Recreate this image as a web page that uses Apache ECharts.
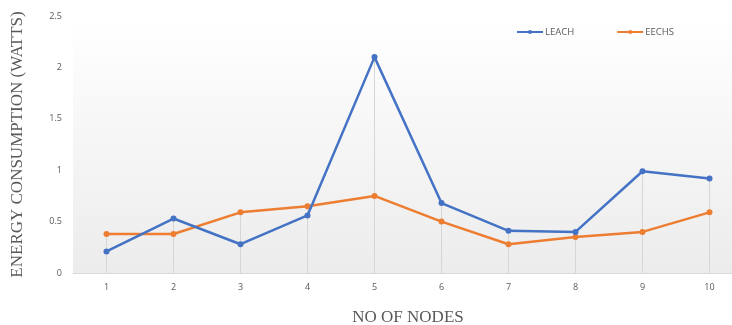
<!DOCTYPE html>
<html>
<head>
<meta charset="utf-8">
<script src="https://cdn.jsdelivr.net/npm/echarts@6/dist/echarts.min.js"></script>
<style>
  html, body { margin: 0; padding: 0; background: #ffffff; }
  #chart { width: 732px; height: 325px; }
</style>
</head>
<body>
<div id="chart"></div>
<script>
// Number of nodes on the x axis
const nodes = ['1', '2', '3', '4', '5', '6', '7', '8', '9', '10'];
// Energy consumption (watts) per protocol
const leach = [0.21, 0.53, 0.28, 0.56, 2.10, 0.68, 0.41, 0.40, 0.99, 0.92];
const eechs = [0.38, 0.38, 0.59, 0.65, 0.75, 0.50, 0.28, 0.35, 0.40, 0.59];
// Y axis ticks
const yTicks = [0, 0.5, 1, 1.5, 2, 2.5];

// Drop lines run from the higher of the two points down to the axis
const dropTop = leach.map((v, i) => Math.max(v, eechs[i]));

const BLUE = '#4472C4';
const ORANGE = '#ED7D31';
const TEXT = '#595959';

const chart = echarts.init(document.getElementById('chart'), null, { renderer: 'canvas' });

chart.setOption({
  animation: false,
  backgroundColor: '#ffffff',
  grid: {
    left: 73, top: 16, right: -11, bottom: 52,
    outerBoundsMode: 'none',
    show: true,
    borderWidth: 0,
    backgroundColor: new echarts.graphic.LinearGradient(0, 0, 0, 1, [
      { offset: 0, color: '#ffffff' },
      { offset: 1, color: '#ececec' }
    ])
  },
  legend: {
    top: 22,
    left: 511,
    itemGap: 42,
    itemWidth: 26,
    itemHeight: 5,
    textStyle: { color: TEXT, fontSize: 9.5, fontFamily: 'Open Sans', padding: [0, 0, 0, -3] },
    data: ['LEACH', 'EECHS']
  },
  xAxis: {
    type: 'category',
    data: nodes,
    boundaryGap: true,
    name: 'NO OF NODES',
    nameLocation: 'middle',
    nameGap: 36,
    nameTextStyle: { fontFamily: 'Liberation Serif', fontSize: 17, color: TEXT },
    axisLine: { lineStyle: { color: '#d9d9d9', width: 1 } },
    axisTick: { show: false },
    axisLabel: { color: TEXT, fontSize: 9, fontFamily: 'Open Sans', margin: 10 },
    splitLine: { show: false }
  },
  yAxis: {
    type: 'value',
    min: yTicks[0],
    max: yTicks[yTicks.length - 1],
    interval: yTicks[1] - yTicks[0],
    name: 'ENERGY CONSUMPTION (WATTS)',
    nameLocation: 'middle',
    nameGap: 47,
    nameTextStyle: { fontFamily: 'Liberation Serif', fontSize: 17, color: TEXT },
    axisLine: { show: false },
    axisTick: { show: false },
    axisLabel: { color: TEXT, fontSize: 9, fontFamily: 'Open Sans', margin: 11 },
    splitLine: { show: false }
  },
  series: [
    {
      name: 'drop',
      type: 'bar',
      data: dropTop,
      barWidth: 1,
      itemStyle: { color: '#d6d6d6' },
      silent: true,
      z: 1
    },
    {
      name: 'LEACH',
      type: 'line',
      data: leach,
      color: BLUE,
      symbol: 'circle',
      symbolSize: 6,
      lineStyle: { width: 2.5, color: BLUE },
      itemStyle: { color: BLUE },
      z: 3
    },
    {
      name: 'EECHS',
      type: 'line',
      data: eechs,
      color: ORANGE,
      symbol: 'circle',
      symbolSize: 6,
      lineStyle: { width: 2.5, color: ORANGE },
      itemStyle: { color: ORANGE },
      z: 2
    }
  ]
});
</script>
</body>
</html>
